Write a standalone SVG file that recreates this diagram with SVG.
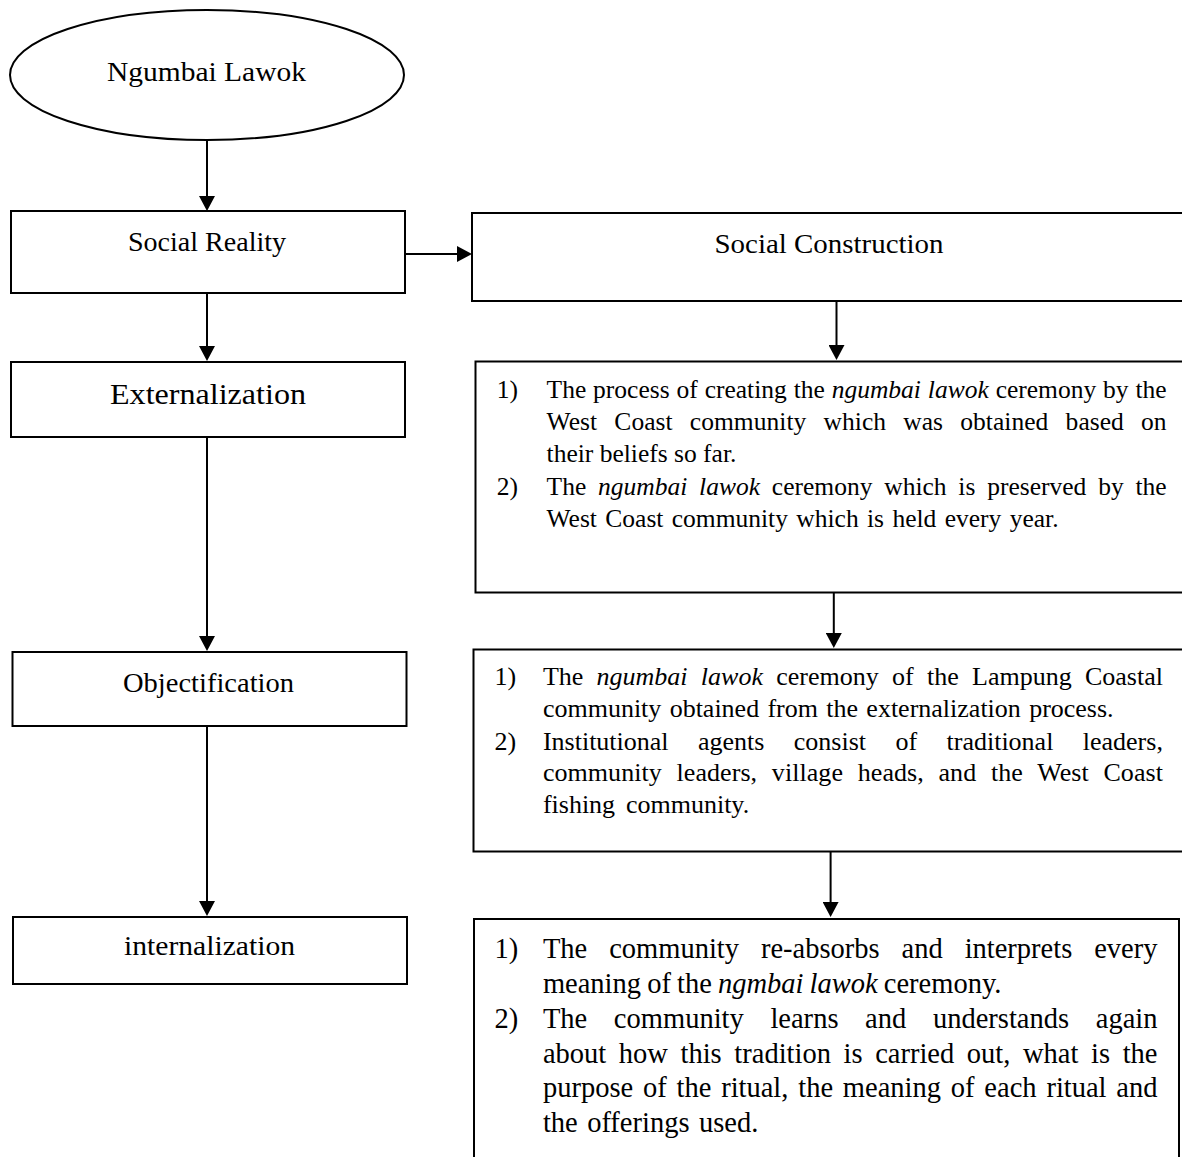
<svg xmlns="http://www.w3.org/2000/svg" width="1182" height="1157" viewBox="0 0 1182 1157">
<style>
  .shape { fill: #ffffff; stroke: #000000; stroke-width: 2; }
  .conn { fill: none; stroke: #000000; stroke-width: 2; }
  text { font-family: 'Liberation Serif', 'Times New Roman', serif; fill: #000000; }
  .lbl { font-size: 27px; text-anchor: middle; }
  .b1 { font-size: 25.5px; }
  .b2 { font-size: 26px; }
  .b3 { font-size: 28.5px; }
  .it { font-style: italic; }
</style>
<defs>
  <marker id="arrow" markerUnits="userSpaceOnUse" markerWidth="16" markerHeight="16" refX="0" refY="8" orient="auto" viewBox="0 0 16 16">
    <path d="M0,0 L15,8 L0,16 Z" fill="#000000"/>
  </marker>
</defs>
<rect x="0" y="0" width="1182" height="1157" fill="#ffffff"/>

<g id="connectors">
  <line class="conn" x1="207" y1="140" x2="207" y2="196" marker-end="url(#arrow)"/>
  <line class="conn" x1="406" y1="254" x2="457" y2="254" marker-end="url(#arrow)"/>
  <line class="conn" x1="207" y1="293" x2="207" y2="346" marker-end="url(#arrow)"/>
  <line class="conn" x1="207" y1="437" x2="207" y2="636" marker-end="url(#arrow)"/>
  <line class="conn" x1="207" y1="726" x2="207" y2="901" marker-end="url(#arrow)"/>
  <line class="conn" x1="836.5" y1="301" x2="836.5" y2="345" marker-end="url(#arrow)"/>
  <line class="conn" x1="833.8" y1="593" x2="833.8" y2="633" marker-end="url(#arrow)"/>
  <line class="conn" x1="830.6" y1="852" x2="830.6" y2="902" marker-end="url(#arrow)"/>
</g>

<g id="node-ngumbai">
  <ellipse class="shape" cx="207" cy="75" rx="197" ry="65"/>
  <text class="lbl" x="206.5" y="81" textLength="199" lengthAdjust="spacingAndGlyphs">Ngumbai Lawok</text>
</g>

<g id="node-social-reality">
  <rect class="shape" x="11" y="211" width="394" height="82"/>
  <text class="lbl" x="207" y="251" textLength="158" lengthAdjust="spacingAndGlyphs">Social Reality</text>
</g>

<g id="node-externalization">
  <rect class="shape" x="11" y="362" width="394" height="75"/>
  <text class="lbl" x="208" y="404" style="font-size:30px" textLength="196" lengthAdjust="spacingAndGlyphs">Externalization</text>
</g>

<g id="node-objectification">
  <rect class="shape" x="12.5" y="652" width="394" height="74"/>
  <text class="lbl" x="208.5" y="692" textLength="171" lengthAdjust="spacingAndGlyphs">Objectification</text>
</g>

<g id="node-internalization">
  <rect class="shape" x="13" y="917" width="394" height="67"/>
  <text class="lbl" x="209.5" y="955" textLength="171" lengthAdjust="spacingAndGlyphs">internalization</text>
</g>

<g id="node-social-construction">
  <rect class="shape" x="472" y="213" width="720" height="88"/>
  <text class="lbl" x="829" y="253" textLength="229" lengthAdjust="spacingAndGlyphs">Social Construction</text>
</g>

<g id="node-externalization-detail">
  <rect class="shape" x="475.5" y="361.5" width="720" height="231"/>
  <text class="b1" x="496.8" y="398">1)</text>
  <text class="b1" x="546.6" y="398" word-spacing="0.5" textLength="620" lengthAdjust="spacing">The process of creating the <tspan class="it">ngumbai lawok</tspan> ceremony by the</text>
  <text class="b1" x="546.6" y="430" word-spacing="10.8" textLength="620" lengthAdjust="spacing">West Coast community which was obtained based on</text>
  <text class="b1" x="546.6" y="462">their beliefs so far.</text>
  <text class="b1" x="496.8" y="495">2)</text>
  <text class="b1" x="546.6" y="495" word-spacing="5.4" textLength="620" lengthAdjust="spacing">The <tspan class="it">ngumbai lawok</tspan> ceremony which is preserved by the</text>
  <text class="b1" x="546.6" y="527" word-spacing="2">West Coast community which is held every year.</text>
</g>

<g id="node-objectification-detail">
  <rect class="shape" x="473.5" y="649.5" width="720" height="202"/>
  <text class="b2" x="494.5" y="685">1)</text>
  <text class="b2" x="542.9" y="685" word-spacing="6.8" textLength="620" lengthAdjust="spacing">The <tspan class="it">ngumbai lawok</tspan> ceremony of the Lampung Coastal</text>
  <text class="b2" x="542.9" y="717" word-spacing="1.8">community obtained from the externalization process.</text>
  <text class="b2" x="494.5" y="750">2)</text>
  <text class="b2" x="542.9" y="750" word-spacing="22.9" textLength="620" lengthAdjust="spacing">Institutional agents consist of traditional leaders,</text>
  <text class="b2" x="542.9" y="781" word-spacing="8.2" textLength="620" lengthAdjust="spacing">community leaders, village heads, and the West Coast</text>
  <text class="b2" x="542.9" y="813" word-spacing="4.3">fishing community.</text>
</g>

<g id="node-internalization-detail">
  <rect class="shape" x="474" y="919" width="705" height="260"/>
  <text class="b3" x="494.5" y="958">1)</text>
  <text class="b3" x="542.9" y="958" word-spacing="14.8" textLength="614.6" lengthAdjust="spacing">The community re-absorbs and interprets every</text>
  <text class="b3" x="542.9" y="993" word-spacing="-1">meaning of the <tspan class="it">ngmbai lawok</tspan> ceremony.</text>
  <text class="b3" x="494.5" y="1028">2)</text>
  <text class="b3" x="542.9" y="1028" word-spacing="19.5" textLength="614.6" lengthAdjust="spacing">The community learns and understands again</text>
  <text class="b3" x="542.9" y="1063" word-spacing="5.5" textLength="614.6" lengthAdjust="spacing">about how this tradition is carried out, what is the</text>
  <text class="b3" x="542.9" y="1097" word-spacing="2.7" textLength="614.6" lengthAdjust="spacing">purpose of the ritual, the meaning of each ritual and</text>
  <text class="b3" x="542.9" y="1132" word-spacing="2.3">the offerings used.</text>
</g>
</svg>
